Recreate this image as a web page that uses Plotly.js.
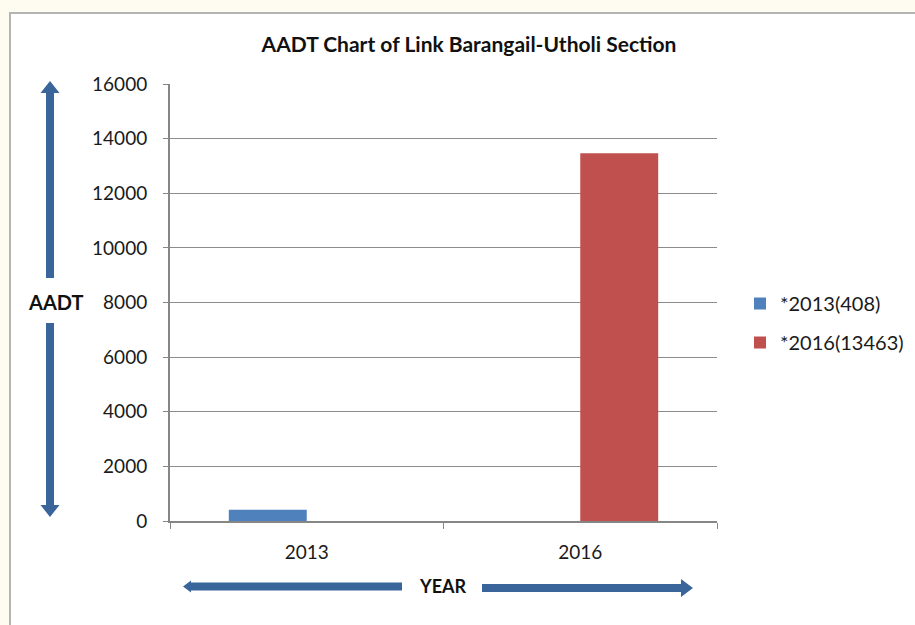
<!DOCTYPE html>
<html>
<head>
<meta charset="utf-8">
<script src="https://cdn.plot.ly/plotly-3.0.1.min.js"></script>
<style>html,body{margin:0;padding:0;background:#fefcf0;}#chart{width:915px;height:625px;}</style>
</head>
<body>
<div id="chart"></div>
<script>
// ---- data ----
var categories = ['2013', '2016'];
var series2013Name = '*2013(408)';
var series2013 = [408, 0];
var series2016Name = '*2016(13463)';
var series2016 = [0, 13463];
var yTickVals = [0, 2000, 4000, 6000, 8000, 10000, 12000, 14000, 16000];
var chartTitle = 'AADT Chart of Link Barangail-Utholi Section';
var yLabel = 'AADT';
var xLabel = 'YEAR';

// ---- layout geometry ----
var W = 915, H = 625;
var L = 170, R = 717, T = 84, B = 521;
function px(x) { return (x - L) / (R - L); }
function py(y) { return (B - y) / (B - T); }
function path(pts) {
  return 'M' + pts.map(function (p) { return px(p[0]) + ',' + py(p[1]); }).join('L') + 'Z';
}
var arrowColor = '#3a659b';
var FONT = 'Lato, "Open Sans", sans-serif';

var shapes = [
  // white panel with gray border
  {type: 'rect', xref: 'paper', yref: 'paper', x0: px(10), x1: px(930), y0: py(13), y1: py(640),
   fillcolor: '#ffffff', line: {color: '#b4b4b4', width: 2}, layer: 'below'},
  // up arrow (left)
  {type: 'path', xref: 'paper', yref: 'paper', layer: 'above', fillcolor: arrowColor, line: {width: 0},
   path: path([[50, 81], [59.5, 93], [54, 93], [54, 278], [46, 278], [46, 93], [40.5, 93]])},
  // down arrow (left)
  {type: 'path', xref: 'paper', yref: 'paper', layer: 'above', fillcolor: arrowColor, line: {width: 0},
   path: path([[46, 323], [54, 323], [54, 505], [59.5, 505], [50, 517], [40.5, 505], [46, 505]])},
  // left arrow (bottom)
  {type: 'path', xref: 'paper', yref: 'paper', layer: 'above', fillcolor: arrowColor, line: {width: 0},
   path: path([[183, 586.5], [191, 580.5], [191, 582.5], [402, 582.5], [402, 590.5], [191, 590.5], [191, 592.5]])},
  // right arrow (bottom)
  {type: 'path', xref: 'paper', yref: 'paper', layer: 'above', fillcolor: arrowColor, line: {width: 0},
   path: path([[482, 584], [681, 584], [681, 579], [693, 588], [681, 597], [681, 592], [482, 592]])}
];

var traces = [
  {type: 'bar', x: categories, y: series2013, name: series2013Name, legendgroup: 'a',
   marker: {color: '#4f81bd', line: {width: 0}}, hoverinfo: 'x+y'},
  {type: 'bar', x: categories, y: series2016, name: series2016Name, legendgroup: 'b',
   marker: {color: '#c0504d', line: {width: 0}}, hoverinfo: 'x+y'}
];

var layout = {
  width: W, height: H,
  margin: {l: L, r: W - R, t: T, b: H - B, pad: 0, autoexpand: false},
  paper_bgcolor: '#fefcf0',
  plot_bgcolor: 'rgba(0,0,0,0)',
  font: {family: FONT, size: 19, color: '#1a1a1a'},
  title: {text: '<b>' + chartTitle + '</b>', font: {family: FONT, size: 21, color: '#111'},
          x: px(469), xanchor: 'center', xref: 'paper', y: 1 - 45 / H, yanchor: 'middle'},
  barmode: 'group', bargap: 0.43, bargroupgap: 0,
  showlegend: true,
  legend: {xref: 'container', yref: 'container', x: 740 / W, xanchor: 'left', y: 1 - 284 / H, yanchor: 'top',
           traceorder: 'grouped', tracegroupgap: 10, bgcolor: 'rgba(0,0,0,0)',
           font: {family: FONT, size: 20, color: '#1a1a1a'}},
  xaxis: {type: 'category', tickson: 'boundaries', ticks: 'outside', ticklen: 6, tickwidth: 1,
          tickcolor: '#868686', showline: true, linecolor: '#868686', linewidth: 2,
          showgrid: false, zeroline: false, ticklabelstandoff: 13, fixedrange: true,
          tickfont: {family: FONT, size: 19, color: '#1a1a1a'}},
  yaxis: {range: [0, 16000], tickvals: yTickVals, ticktext: yTickVals.map(String),
          ticks: 'outside', ticklen: 5, tickwidth: 1, tickcolor: '#868686',
          showline: true, linecolor: '#868686', linewidth: 2,
          showgrid: true, gridcolor: '#8c8c8c', gridwidth: 1, zeroline: false,
          ticklabelstandoff: 12, fixedrange: true,
          tickfont: {family: FONT, size: 19, color: '#1a1a1a'}},
  shapes: shapes,
  annotations: [
    {text: '<b>' + yLabel + '</b>', xref: 'paper', yref: 'paper', x: px(55), y: py(302),
     xanchor: 'center', yanchor: 'middle', showarrow: false, font: {family: FONT, size: 20, color: '#111'}},
    {text: '<b>' + xLabel + '</b>', xref: 'paper', yref: 'paper', x: px(443), y: py(586),
     xanchor: 'center', yanchor: 'middle', showarrow: false, font: {family: FONT, size: 18, color: '#111'}}
  ]
};

Plotly.newPlot('chart', traces, layout, {displayModeBar: false, staticPlot: true});
</script>
</body>
</html>
